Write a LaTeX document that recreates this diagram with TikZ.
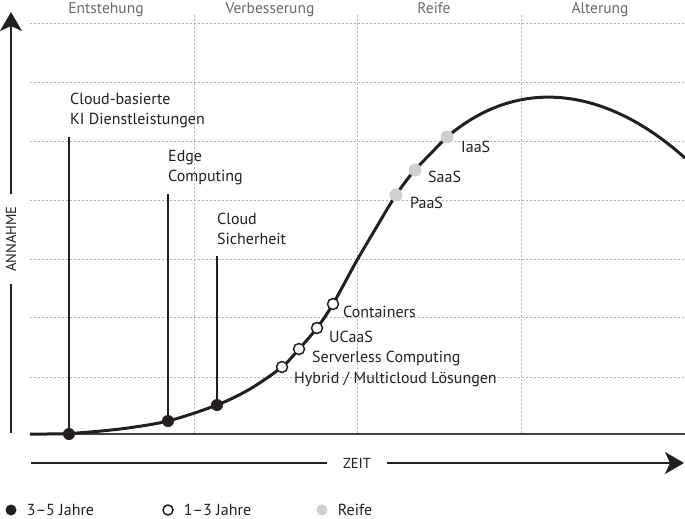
\documentclass[tikz,border=0pt]{standalone}
\usepackage{fontspec}
\setmainfont{PT Sans}
\usetikzlibrary{arrows.meta,positioning}
\definecolor{InkBlack}{RGB}{35,31,32}
\definecolor{GridGray}{RGB}{178,178,180}
\definecolor{PhaseGray}{RGB}{105,105,108}
\definecolor{MatureGray}{RGB}{206,207,210}

\begin{document}
\begin{tikzpicture}[x=1pt,y=-1pt,>={Stealth[length=19pt,width=22pt,inset=5pt]},
    grid/.style={GridGray,line width=1pt,dash pattern=on 2pt off 2pt},
    axis/.style={InkBlack,line width=1.6pt},
    axislbl/.style={text=InkBlack,inner ysep=0pt,font=\fontsize{14.5}{16}\selectfont},
    phase/.style={text=PhaseGray,inner sep=0pt,anchor=base,font=\fontsize{15.5}{18}\selectfont},
    lbl/.style={text=InkBlack,inner sep=0pt,align=left,font=\fontsize{16}{20}\selectfont},
    stem/.style={InkBlack,line width=2pt},
    early/.style={circle,fill=InkBlack,minimum size=12pt,inner sep=0pt},
    soon/.style={circle,draw=InkBlack,fill=white,line width=1.5pt,minimum size=11pt,inner sep=0pt},
    mature/.style={circle,fill=MatureGray,minimum size=13pt,inner sep=0pt}]
  \useasboundingbox (0,0) rectangle (685,519);
  % raster
  \foreach \y in {24,82,141,200,259,317,377}
    \draw[grid] (30,\y) -- (685,\y);
  \foreach \x in {194,357,521}
    \draw[grid] (\x,15) -- (\x,434);
  % phasen
  \node[phase] (ph1) at (106,14) {Entstehung};
  \node[phase] (ph2) at (270,14) {Verbesserung};
  \node[phase] (ph3) at (434,14) {Reife};
  \node[phase] (ph4) at (600,14) {Alterung};
  % achsen
  \node[axislbl,rotate=90,inner xsep=12pt] (ya) at (11,239) {ANNAHME};
  \coordinate (yfoot) at (11,433);
  \coordinate (ytip) at (11,12);
  \draw[axis] (yfoot) -- (ya.west);
  \draw[axis,->] (ya.east) -- (ytip);
  \node[axislbl,inner xsep=16pt] (xa) at (357,463) {ZEIT};
  \coordinate (xfoot) at (31,463);
  \coordinate (xtip) at (684,463);
  \draw[axis] (xfoot) -- (xa.west);
  \draw[axis,->] (xa.east) -- (xtip);
  % grundlinie und kurve
  \draw[InkBlack!85,line width=2.5pt] (30,434) -- (685,434);
  \draw[InkBlack,line width=3pt] plot[smooth,tension=0.5] coordinates
    {(30,434) (69,433.5) (120,429) (168,421) (217,405) (250,389) (282,367)
     (299,349) (317,328) (333,304) (356,262) (376,228) (396,195) (415,170)
     (447,137)}
    .. controls (522,73) and (610,90.5) .. (685,158);
  % 3-5 jahre
  \node[lbl,anchor=north west] (l1) at (70,93) {Cloud-basierte\\KI Dienstleistungen};
  \node[lbl,anchor=north west] (l2) at (168,150) {Edge\\Computing};
  \node[lbl,anchor=north west] (l3) at (217,213) {Cloud\\Sicherheit};
  \coordinate (t1) at ([yshift=-9pt]l1.south);
  \coordinate (t2) at ([yshift=-9pt]l2.south);
  \coordinate (t3) at ([yshift=-11pt]l3.south);
  \node[early] (k1) at (69,434) {};
  \node[early] (k2) at (168,421) {};
  \node[early] (k3) at (217,405) {};
  \draw[stem] (k1.center) -- (k1 |- t1);
  \draw[stem] (k2.center) -- (k2 |- t2);
  \draw[stem] (k3.center) -- (k3 |- t3);
  % 1-3 jahre
  \node[soon] (h1) at (282,367) {};
  \node[soon] (h2) at (299,349) {};
  \node[soon] (h3) at (317,328) {};
  \node[soon] (h4) at (333,304) {};
  \node[lbl,anchor=base west] (hl1) at ([xshift=12pt,yshift=-16pt]h1) {Hybrid / Multicloud Lösungen};
  \node[lbl,anchor=base west] (hl2) at ([xshift=13pt,yshift=-13pt]h2) {Serverless Computing};
  \node[lbl,anchor=base west] (hl3) at ([xshift=12pt,yshift=-14pt]h3) {UCaaS};
  \node[lbl,anchor=base west] (hl4) at ([xshift=10pt,yshift=-13pt]h4) {Containers};
  % reife
  \node[mature] (m1) at (396,195) {};
  \node[mature] (m2) at (415,170) {};
  \node[mature] (m3) at (447,137) {};
  \node[lbl,anchor=base west] (ml1) at ([xshift=14pt,yshift=-13pt]m1) {PaaS};
  \node[lbl,anchor=base west] (ml2) at ([xshift=13pt,yshift=-12pt]m2) {SaaS};
  \node[lbl,anchor=base west] (ml3) at ([xshift=14pt,yshift=-15pt]m3) {IaaS};
  % legende
  \node[early,minimum size=11pt] (g1) at (11,510) {};
  \node[lbl,right=10pt of g1] (g1t) {3–5 Jahre};
  \node[soon,minimum size=10pt] (g2) at (168,510) {};
  \node[lbl,right=10pt of g2] (g2t) {1–3 Jahre};
  \node[mature,minimum size=11pt] (g3) at (322,510) {};
  \node[lbl,right=10pt of g3] (g3t) {Reife};
\end{tikzpicture}
\end{document}
